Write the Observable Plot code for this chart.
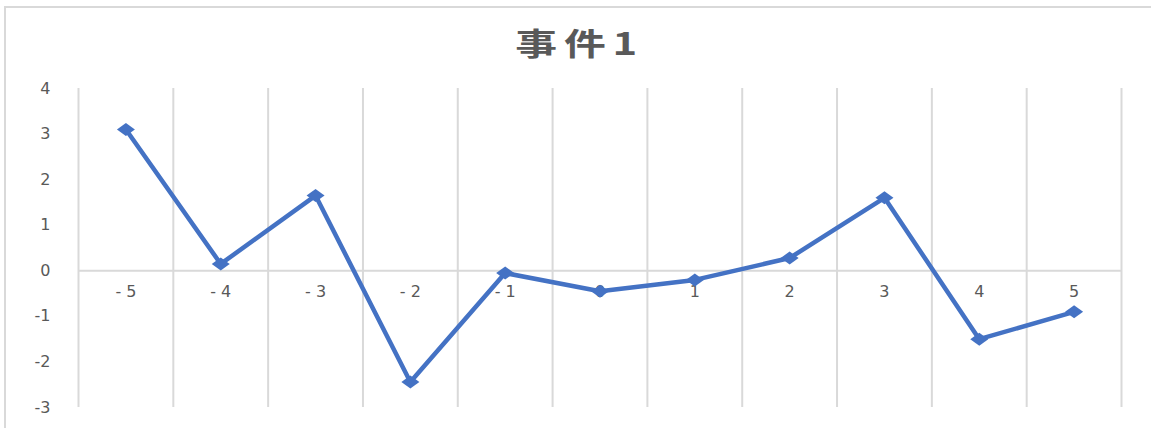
<!DOCTYPE html>
<html>
<head>
<meta charset="utf-8">
<script src="https://cdn.jsdelivr.net/npm/d3@7"></script>
<script src="https://cdn.jsdelivr.net/npm/@observablehq/plot@0.6"></script>
<style>
  html, body { margin: 0; padding: 0; background: #fff; }
  #wrap { position: relative; width: 1151px; height: 428px; overflow: hidden; }
  #frame { position: absolute; left: 4px; top: 6px; width: 1300px; height: 600px; border: 2px solid #d9d9d9; box-sizing: border-box; }
  #title { position: relative; height: 75px; text-align: center; }
  #title span { display: inline-block; margin-top: 22px; margin-left: 8px; font-family: "Noto Sans CJK SC", sans-serif; font-weight: bold; font-size: 31px; line-height: 40px; color: #595959; letter-spacing: 5px; transform: scaleX(1.35); }
  #chart { position: relative; }
</style>
</head>
<body>
<div id="wrap">
  <div id="frame"></div>
  <div id="title"><span>事件1</span></div>
  <div id="chart"></div>
</div>
<script>
const titleText = "事件1";
const categories = [-5, -4, -3, -2, -1, 0, 1, 2, 3, 4, 5];
const values = [3.1, 0.15, 1.65, -2.44, -0.05, -0.45, -0.2, 0.28, 1.6, -1.5, -0.9];
const yTicks = [-3, -2, -1, 0, 1, 2, 3, 4];

const data = categories.map((c, i) => ({ x: c, y: values[i] }));
const edges = categories.map(c => c - 0.5).concat([categories[categories.length - 1] + 0.5]);
const fmtX = c => (c < 0 ? "- " + Math.abs(c) : String(c));

const wideDiamond = {
  draw(ctx, size) {
    const w = 9, h = 6.5;
    ctx.moveTo(-w, 0);
    ctx.lineTo(0, -h);
    ctx.lineTo(w, 0);
    ctx.lineTo(0, h);
    ctx.closePath();
  }
};

const plot = Plot.plot({
  width: 1151,
  height: 353,
  marginLeft: 78,
  marginRight: 30,
  marginTop: 13,
  marginBottom: 21,
  style: { fontFamily: "DejaVu Sans, sans-serif", fontSize: "16px", color: "#595959", background: "transparent" },
  x: { domain: [-5.5, 5.5], axis: null },
  y: { domain: [-3, 4], ticks: yTicks },
  marks: [
    Plot.ruleX(edges, { y1: -3, y2: 4, stroke: "#d9d9d9", strokeWidth: 2, strokeOpacity: 1 }),
    Plot.ruleY([0], { stroke: "#d9d9d9", strokeWidth: 2 }),
    Plot.axisY({ ticks: yTicks, tickSize: 0, tickPadding: 28, label: null, tickFormat: d => String(d), fill: "#595959", fontSize: 16 }),
    Plot.text(categories, { x: d => d, y: 0, text: fmtX, dy: 21, fill: "#595959", fontSize: 16 }),
    Plot.line(data, { x: "x", y: "y", stroke: "#4472C4", strokeWidth: 4.5, strokeLinejoin: "round" }),
    Plot.dot(data, { x: "x", y: "y", symbol: wideDiamond, fill: "#4472C4", stroke: "none" })
  ]
});
document.getElementById("chart").appendChild(plot);
</script>
</body>
</html>
